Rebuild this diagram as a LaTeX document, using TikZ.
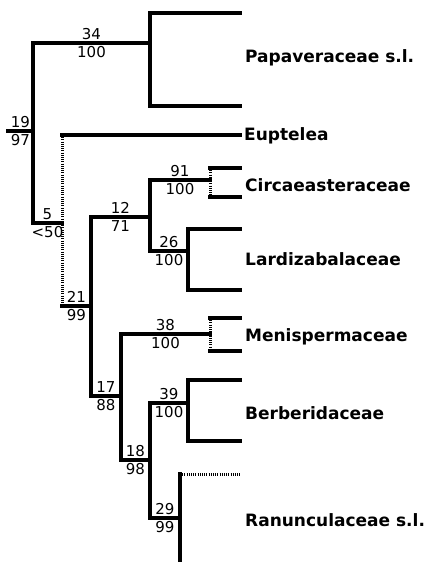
\documentclass[tikz,border=0pt]{standalone}
\usepackage{fontspec}
\setmainfont{DejaVu Sans}
\usepackage{tikz}

\begin{document}
\begin{tikzpicture}[
      x=1pt, y=-1pt,
      branch/.style={line width=3.2pt, line cap=rect},
      weak/.style={line width=3pt, dash pattern=on 1pt off 1.2pt},
      taxon/.style={anchor=west, inner sep=0pt, font=\bfseries\fontsize{17}{20}\selectfont},
      supp/.style={inner sep=1.5pt, font=\fontsize{15}{16}\selectfont}
    ]
  \useasboundingbox (0,0) rectangle (433,562);
  % clades: x = depth, y = stem
  \coordinate (base) at (8,131);
  \coordinate (root) at (33,131);
  \coordinate (pap) at (150,43);
  \coordinate (n5) at (62,223);
  \coordinate (n21) at (91,306);
  \coordinate (n12) at (150,217);
  \coordinate (cir) at (210,180);
  \coordinate (lar) at (188,251);
  \coordinate (n17) at (121,396);
  \coordinate (men) at (210,334);
  \coordinate (n18) at (150,460);
  \coordinate (ber) at (188,403);
  \coordinate (ran) at (180,518);
  % tips
  \coordinate (pap1) at (240,13);
  \coordinate (pap2) at (240,106);
  \coordinate (eup) at (240,135);
  \coordinate (cir1) at (240,168);
  \coordinate (cir2) at (240,197);
  \coordinate (lar1) at (240,229);
  \coordinate (lar2) at (240,290);
  \coordinate (men1) at (240,318);
  \coordinate (men2) at (240,351);
  \coordinate (ber1) at (240,380);
  \coordinate (ber2) at (240,441);
  \coordinate (ran1) at (240,474);
  \coordinate (ran2) at (240,562);

  \draw[branch] (base) -- node[supp, above]{19} node[supp, below]{97} (root);
  \draw[branch] (root |- pap) -- (root |- n5);
  \draw[branch] (root |- pap) -- node[supp, above]{34} node[supp, below]{100} (pap);
  \draw[branch] (pap1) -| (pap |- pap2) -- (pap2);
  \draw[branch] (root |- n5) -- node[supp, above]{5} node[supp, below]{<50} (n5);
  \draw[weak] (n5 |- eup) -- (n5 |- n21);
  \draw[branch] (n5 |- eup) -- (eup);
  \draw[branch] (n5 |- n21) -- node[supp, above]{21} node[supp, below]{99} (n21);
  \draw[branch] (n21 |- n12) -- (n21 |- n17);
  \draw[branch] (n21 |- n12) -- node[supp, above]{12} node[supp, below]{71} (n12);
  \draw[branch] (n12 |- cir) -- (n12 |- lar);
  \draw[branch] (n12 |- cir) -- node[supp, above]{91} node[supp, below]{100} (cir);
  \draw[weak] (cir |- cir1) -- (cir |- cir2);
  \draw[branch] (cir |- cir1) -- (cir1);
  \draw[branch] (cir |- cir2) -- (cir2);
  \draw[branch] (n12 |- lar) -- node[supp, above]{26} node[supp, below]{100} (lar);
  \draw[branch] (lar1) -| (lar |- lar2) -- (lar2);
  \draw[branch] (n21 |- n17) -- node[supp, above]{17} node[supp, below]{88} (n17);
  \draw[branch] (n17 |- men) -- (n17 |- n18);
  \draw[branch] (n17 |- men) -- node[supp, above]{38} node[supp, below]{100} (men);
  \draw[weak] (men |- men1) -- (men |- men2);
  \draw[branch] (men |- men1) -- (men1);
  \draw[branch] (men |- men2) -- (men2);
  \draw[branch] (n17 |- n18) -- node[supp, above]{18} node[supp, below]{98} (n18);
  \draw[branch] (n18 |- ber) -- (n18 |- ran);
  \draw[branch] (n18 |- ber) -- node[supp, above]{39} node[supp, below]{100} (ber);
  \draw[branch] (ber1) -| (ber |- ber2) -- (ber2);
  \draw[branch] (n18 |- ran) -- node[supp, above]{29} node[supp, below]{99} (ran);
  \draw[branch] (ran |- ran1) -- (ran |- ran2);
  \draw[weak] (ran |- ran1) -- (ran1);

  \node[taxon] (papaveraceae) at (245,58) {Papaveraceae s.l.};
  \node[taxon] (euptelea) at (244,136) {Euptelea};
  \node[taxon] (circaeasteraceae) at (245,185) {Circaeasteraceae};
  \node[taxon] (lardizabalaceae) at (245,259) {Lardizabalaceae};
  \node[taxon] (menispermaceae) at (245,337) {Menispermaceae};
  \node[taxon] (berberidaceae) at (245,413) {Berberidaceae};
  \node[taxon] (ranunculaceae) at (245,520) {Ranunculaceae s.l.};
\end{tikzpicture}
\end{document}
